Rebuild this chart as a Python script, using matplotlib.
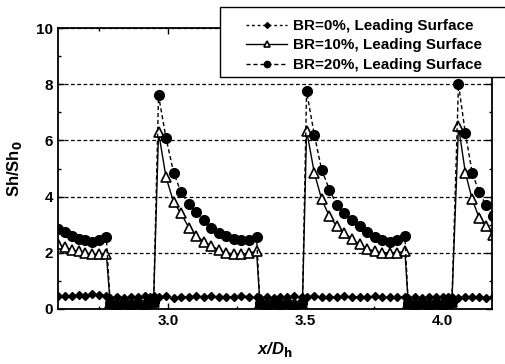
import matplotlib
matplotlib.use("Agg")
import matplotlib.pyplot as plt
from matplotlib.patches import Rectangle
from matplotlib.ticker import MultipleLocator, FormatStrFormatter

plt.rcParams['font.family'] = ['Liberation Sans', 'DejaVu Sans']
plt.rcParams['font.weight'] = 'bold'

# measurement positions x/Dh (partial rib, gap, rib, gap, rib, gap, partial rib)
x_pos = [2.600, 2.625, 2.650, 2.675, 2.700, 2.725, 2.750, 2.776,
         2.790, 2.815, 2.840, 2.865, 2.890, 2.915, 2.935, 2.948,
         2.966, 2.993, 3.021, 3.048, 3.076, 3.103, 3.131, 3.158, 3.186, 3.213, 3.241, 3.268, 3.296, 3.323,
         3.335, 3.360, 3.385, 3.410, 3.435, 3.460, 3.490,
         3.505, 3.533, 3.560, 3.588, 3.615, 3.643, 3.670, 3.698, 3.725, 3.753, 3.780, 3.808, 3.835, 3.863,
         3.875, 3.900, 3.925, 3.950, 3.975, 4.000, 4.020, 4.034,
         4.058, 4.083, 4.108, 4.133, 4.158, 4.183]

br0 = [0.45, 0.48, 0.45, 0.50, 0.47, 0.52, 0.50, 0.48,
       0.40, 0.42, 0.40, 0.44, 0.42, 0.45, 0.43, 0.45,
       0.42, 0.45, 0.40, 0.44, 0.42, 0.46, 0.43, 0.45, 0.42, 0.44, 0.42, 0.46, 0.44, 0.42,
       0.38, 0.42, 0.40, 0.44, 0.42, 0.45, 0.43,
       0.42, 0.46, 0.42, 0.44, 0.41, 0.45, 0.42, 0.44, 0.41, 0.45, 0.42, 0.44, 0.41, 0.43,
       0.38, 0.42, 0.40, 0.43, 0.41, 0.44, 0.42, 0.44,
       0.40, 0.44, 0.41, 0.43, 0.40, 0.42]

br10 = [2.30, 2.20, 2.10, 2.05, 2.00, 1.95, 1.95, 1.95,
        0.20, 0.15, 0.20, 0.15, 0.20, 0.15, 0.20, 0.25,
        6.30, 4.70, 3.80, 3.40, 2.90, 2.60, 2.40, 2.25, 2.10, 2.00, 1.95, 1.95, 2.00, 2.05,
        0.20, 0.15, 0.20, 0.15, 0.20, 0.15, 0.20,
        6.35, 4.85, 3.90, 3.30, 2.95, 2.70, 2.50, 2.30, 2.15, 2.05, 2.00, 2.00, 2.00, 2.05,
        0.20, 0.15, 0.20, 0.15, 0.20, 0.15, 0.20, 0.25,
        6.50, 4.85, 3.90, 3.25, 2.95, 2.65]

br20 = [2.85, 2.75, 2.60, 2.50, 2.45, 2.40, 2.45, 2.55,
        0.20, 0.15, 0.20, 0.15, 0.20, 0.15, 0.20, 0.25,
        7.60, 6.10, 4.85, 4.15, 3.75, 3.45, 3.15, 2.90, 2.70, 2.60, 2.50, 2.45, 2.45, 2.55,
        0.20, 0.15, 0.20, 0.15, 0.20, 0.15, 0.20,
        7.75, 6.20, 4.95, 4.25, 3.70, 3.40, 3.15, 2.95, 2.75, 2.55, 2.45, 2.40, 2.45, 2.60,
        0.20, 0.15, 0.20, 0.15, 0.20, 0.15, 0.20, 0.25,
        8.00, 6.25, 4.85, 4.15, 3.70, 3.30]

labels = ['BR=0%, Leading Surface', 'BR=10%, Leading Surface', 'BR=20%, Leading Surface']

W, H = 506, 364
fig = plt.figure(figsize=(W / 100, H / 100), dpi=100)
ax = fig.add_axes([58 / W, 1 - 309 / H, 434 / W, 281 / H])

ax.plot(x_pos, br0, color='black', linestyle=(0, (2, 2)), linewidth=1,
        marker='D', markersize=4.5, label=labels[0])
ax.plot(x_pos, br10, color='black', linestyle='-', linewidth=1,
        marker='^', markersize=7, markerfacecolor='white', markeredgewidth=1.2,
        label=labels[1])
ax.plot(x_pos, br20, color='black', linestyle=(0, (3, 2)), linewidth=1,
        marker='o', markersize=7, label=labels[2])

ax.set_xlim(2.6, 4.18)
ax.set_ylim(0, 10)
ax.xaxis.set_major_locator(MultipleLocator(0.5))
ax.xaxis.set_minor_locator(MultipleLocator(0.25))
ax.xaxis.set_major_formatter(FormatStrFormatter('%.1f'))
ax.yaxis.set_major_locator(MultipleLocator(2))
ax.yaxis.set_minor_locator(MultipleLocator(1))
ax.tick_params(which='both', direction='in', top=True, right=True, labelsize=11, width=1)
ax.tick_params(which='major', length=4)
ax.tick_params(which='minor', length=2)
for s in ax.spines.values():
    s.set_linewidth(1.3)

ax.yaxis.grid(True, which='major', color='black', linestyle=(0, (3, 2)), linewidth=0.9)

ax.set_xlabel('x/D$_\\mathbf{h}$', fontsize=12, fontstyle='italic', fontweight='bold', labelpad=9)
ax.set_ylabel('Sh/Sh$_\\mathbf{0}$', fontsize=12, fontweight='bold', labelpad=9)

# legend box runs off the right edge of the figure, as in the original
fig.patches.append(Rectangle((220 / W, 1 - 77 / H), 300 / W, 70 / H, transform=fig.transFigure,
                             facecolor='white', edgecolor='black', linewidth=1, zorder=4))
leg = fig.legend(loc='upper left', bbox_to_anchor=(246 / W, 1 - 19 / H), borderaxespad=0,
                 fontsize=11, frameon=False, handlelength=2.7, handletextpad=0.35,
                 borderpad=0, labelspacing=0.36, markerscale=0.65)
leg.set_zorder(5)

fig.savefig('out.png', dpi=100)
